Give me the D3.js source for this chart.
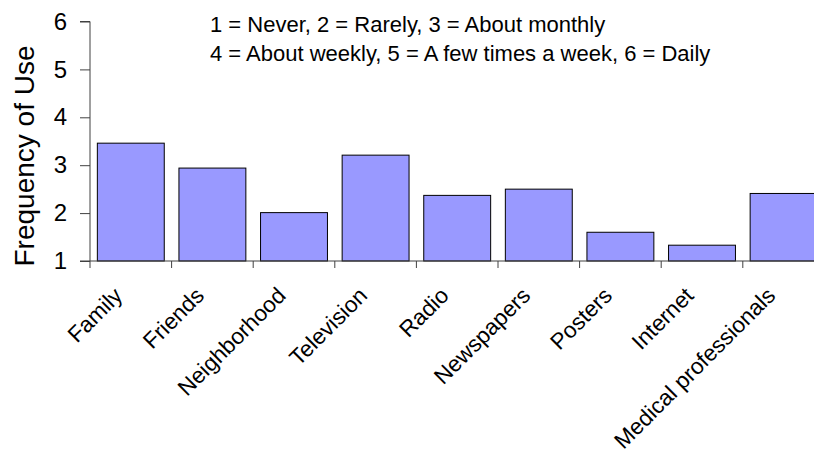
<!DOCTYPE html>
<html>
<head>
<meta charset="utf-8">
<script src="https://cdn.jsdelivr.net/npm/d3@7"></script>
<style>
  html, body { margin: 0; padding: 0; background: #fff; }
  svg { display: block; font-family: "Liberation Sans", Arial, sans-serif; }
</style>
</head>
<body>
<svg id="chart" width="814" height="455"></svg>
<script>
// Sources of information and how often each is used (1-6 scale)
const categories = ["Family", "Friends", "Neighborhood", "Television", "Radio",
                    "Newspapers", "Posters", "Internet", "Medical professionals"];
const frequency = [3.46, 2.94, 2.01, 3.21, 2.37, 2.50, 1.60, 1.33, 2.41];
const yTicks = [1, 2, 3, 4, 5, 6];
const scaleNotes = [
  "1 = Never, 2 = Rarely, 3 = About monthly",
  "4 = About weekly, 5 = A few times a week, 6 = Daily"
];
const yTitle = "Frequency of Use";

const svg = d3.select("#chart");
const plotLeft = 90, plotBottom = 261, plotTop = 21.5, bandStep = 81.6;

const x = d3.scaleBand()
  .domain(categories)
  .range([plotLeft, plotLeft + bandStep * categories.length])
  .paddingInner(0.18)
  .paddingOuter(0.09);

const y = d3.scaleLinear().domain([1, 6]).range([plotBottom, plotTop]);

// bars
svg.append("g").selectAll("rect")
  .data(categories)
  .join("rect")
  .attr("x", d => x(d))
  .attr("width", x.bandwidth())
  .attr("y", (d, i) => y(frequency[i]))
  .attr("height", (d, i) => y(1) - y(frequency[i]))
  .attr("fill", "#9999ff")
  .attr("stroke", "#000")
  .attr("stroke-width", 1);

// y axis
const yAxis = svg.append("g")
  .attr("transform", `translate(${plotLeft},0)`)
  .call(d3.axisLeft(y).tickValues(yTicks).tickFormat(d3.format("d")).tickSize(10).tickPadding(13));
yAxis.select(".domain").attr("stroke", "#404040").attr("d", `M-10,${plotTop}H0V${plotBottom}H-10`);
yAxis.selectAll(".tick line").attr("stroke", "#404040");
yAxis.selectAll(".tick text")
  .attr("font-size", 24)
  .attr("fill", "#000")
  .attr("font-family", "Liberation Sans, Arial, sans-serif");

// x axis: tick marks sit between categories
const xAxis = svg.append("g").attr("transform", `translate(0,${plotBottom})`);
xAxis.append("line")
  .attr("x1", plotLeft).attr("x2", 814)
  .attr("stroke", "#404040");
const boundaries = d3.range(categories.length + 1).map(i => plotLeft + i * x.step());
xAxis.selectAll("line.tick")
  .data(boundaries)
  .join("line")
  .attr("class", "tick")
  .attr("x1", d => d).attr("x2", d => d)
  .attr("y1", 0).attr("y2", 7)
  .attr("stroke", "#404040");

// category labels, rotated
xAxis.selectAll("text")
  .data(categories)
  .join("text")
  .attr("transform", d => `translate(${x(d) + x.bandwidth() / 2 - 7},${36}) rotate(-45)`)
  .attr("text-anchor", "end")
  .attr("font-size", 22.5)
  .attr("fill", "#000")
  .text(d => d);

// axis title
svg.append("text")
  .attr("transform", `translate(34,156) rotate(-90)`)
  .attr("text-anchor", "middle")
  .attr("font-size", 28)
  .attr("fill", "#000")
  .text(yTitle);

// scale key
svg.append("g").selectAll("text")
  .data(scaleNotes)
  .join("text")
  .attr("x", 210)
  .attr("y", (d, i) => 32 + i * 29)
  .attr("font-size", 22)
  .attr("fill", "#000")
  .text(d => d);
</script>
</body>
</html>
